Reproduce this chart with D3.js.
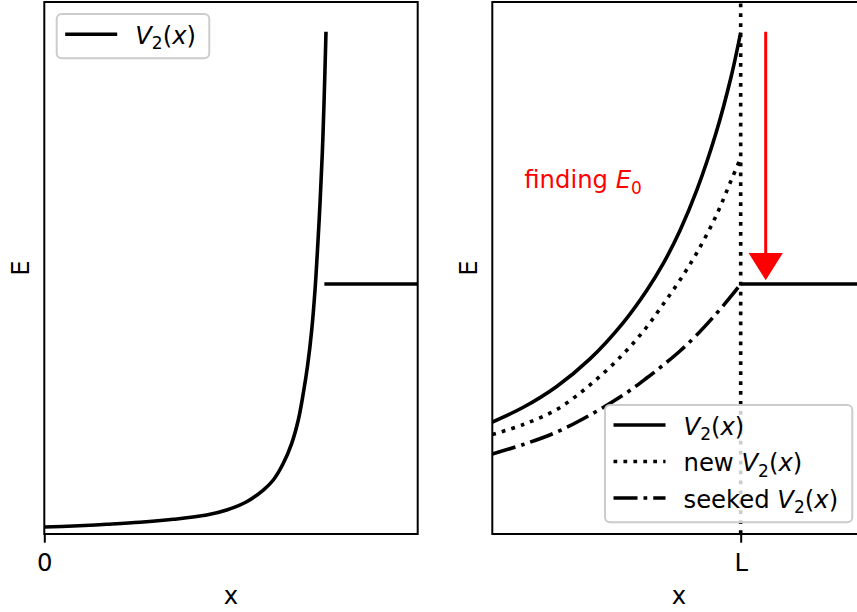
<!DOCTYPE html>
<html>
<head>
<meta charset="utf-8">
<script src="https://cdn.jsdelivr.net/npm/d3@7"></script>
<style>
  html, body { margin: 0; padding: 0; background: #fff; }
  svg { display: block; font-family: "DejaVu Sans", sans-serif; }
</style>
</head>
<body>
<svg id="fig" width="857" height="612"></svg>
<script>
// ---- data -------------------------------------------------------------
// left panel: the potential V2(x) and the flat level it meets
const leftX  = [0, 0.0777, 0.1671, 0.2563, 0.3455, 0.4349, 0.4885, 0.5420, 0.5865, 0.6133, 0.6401,
                0.6626, 0.6802, 0.6936, 0.7054, 0.7161, 0.7250, 0.7311, 0.7384, 0.7445, 0.7491, 0.7544];
const leftV2 = [0.0132, 0.0150, 0.0182, 0.0220, 0.0276, 0.0357, 0.0451, 0.0607, 0.0827, 0.1015, 0.1329,
                0.1705, 0.2143, 0.2645, 0.3180, 0.3830, 0.4586, 0.5276, 0.6216, 0.7156, 0.8096, 0.9442];
const leftStepX = [0.75, 1.0];

// right panel: three trial potentials up to x = L
const rightX      = [0, 0.083, 0.1725, 0.2616, 0.3508, 0.4135, 0.4580, 0.5027, 0.5474, 0.5991, 0.6401, 0.6652];
const rightV2     = [0.2105, 0.2382, 0.2774, 0.3291, 0.3974, 0.4577, 0.5086, 0.5705, 0.6457, 0.7536, 0.8609, 0.9427];
const rightNewV2  = [0.1870, 0.2058, 0.2340, 0.2801, 0.3383, 0.3891, 0.4323, 0.4774, 0.5282, 0.5977, 0.6654, 0.7068];
const rightSeeked = [0.1504, 0.1682, 0.1917, 0.2237, 0.2613, 0.2932, 0.3177, 0.3440, 0.3741, 0.4135, 0.4474, 0.4699];
const rightStepX  = [0.6652, 1.0];

const E0 = 0.4699;          // level of the flat segment
const Lpos = 0.6652;        // position of the wall
const arrowX = 0.7322;      // red arrow, from top down to the level
const arrowFrom = 0.944, arrowTo = 0.477;

const leftTicks  = [0],    leftTickLabels  = ["0"];
const rightTicks = [Lpos], rightTickLabels = ["L"];

// ---- layout -----------------------------------------------------------
const svg = d3.select("#fig");
const FS = 24.3;
const LW = 3.6;
const DOTTED = "3.75,6.19";
const DASHDOT = "24,6,3.75,6";
const yTop = 2, yBottom = 534;

const panels = [
  { x0: 44.3, x1: 417.7 },
  { x0: 492.3, x1: 865.7 }
];

function makeScales(p) {
  return {
    x: d3.scaleLinear().domain([0, 1]).range([p.x0, p.x1]),
    y: d3.scaleLinear().domain([0, 1]).range([yBottom, yTop])
  };
}

function lineOf(sx, sy, xs, ys) {
  return d3.line().x(d => sx(d[0])).y(d => sy(d[1]))
    .curve(d3.curveCatmullRom.alpha(0.5))(d3.zip(xs, ys));
}

// mathtext-like V_2(x)
function v2Label(sel) {
  sel.append("tspan").attr("font-style", "italic").text("V");
  sel.append("tspan").attr("font-size", FS * 0.7).attr("dy", 5.5).text("2");
  sel.append("tspan").attr("dy", -5.5).text("(");
  sel.append("tspan").attr("font-style", "italic").text("x");
  sel.append("tspan").text(")");
}

function drawFrame(g, p, ticks, tickLabels, sx) {
  g.append("rect")
    .attr("x", p.x0).attr("y", yTop)
    .attr("width", p.x1 - p.x0).attr("height", yBottom - yTop)
    .attr("fill", "none").attr("stroke", "#000").attr("stroke-width", 2);
  const axis = d3.axisBottom(sx).tickValues(ticks)
    .tickFormat((d, i) => tickLabels[i]).tickSize(8.7).tickPadding(0);
  const ax = g.append("g").attr("transform", `translate(0,${yBottom})`).call(axis);
  ax.select(".domain").remove();
  ax.selectAll(".tick line").attr("stroke", "#000").attr("stroke-width", 2);
  ax.selectAll(".tick text")
    .attr("y", 36.7).attr("dy", null)
    .attr("font-size", FS).attr("font-family", "DejaVu Sans").attr("fill", "#000");
  const cx = (p.x0 + p.x1) / 2;
  g.append("text").attr("x", cx).attr("y", 604).attr("text-anchor", "middle")
    .attr("font-size", FS).text("x");
  g.append("text")
    .attr("transform", `translate(${p.x0 - 15},${(yTop + yBottom) / 2}) rotate(-90)`)
    .attr("text-anchor", "middle").attr("font-size", FS).text("E");
}

function legend(g, x, y, w, h, rows) {
  g.append("rect").attr("x", x).attr("y", y).attr("width", w).attr("height", h)
    .attr("rx", 5).attr("ry", 5)
    .attr("fill", "#fff").attr("fill-opacity", 0.8)
    .attr("stroke", "#cccccc").attr("stroke-width", 2);
  rows.forEach(r => {
    g.append("line").attr("x1", x + 8.5).attr("x2", x + 60.5)
      .attr("y1", r.y).attr("y2", r.y)
      .attr("stroke", "#000").attr("stroke-width", LW)
      .attr("stroke-dasharray", r.dash || null);
    const t = g.append("text").attr("x", x + 78.5).attr("y", r.y + 9.5).attr("font-size", FS);
    if (r.prefix) t.append("tspan").text(r.prefix);
    v2Label(t);
  });
}

// ---- left panel -------------------------------------------------------
{
  const p = panels[0];
  const s = makeScales(p);
  const g = svg.append("g");
  const clipId = "clipL";
  svg.append("clipPath").attr("id", clipId).append("rect")
    .attr("x", p.x0).attr("y", yTop).attr("width", p.x1 - p.x0).attr("height", yBottom - yTop);
  const plot = g.append("g").attr("clip-path", `url(#${clipId})`);
  plot.append("path").attr("d", lineOf(s.x, s.y, leftX, leftV2))
    .attr("fill", "none").attr("stroke", "#000").attr("stroke-width", LW);
  plot.append("path").attr("d", lineOf(s.x, s.y, leftStepX, [E0, E0]))
    .attr("fill", "none").attr("stroke", "#000").attr("stroke-width", LW);
  drawFrame(g, p, leftTicks, leftTickLabels, s.x);
  legend(g, 56.7, 14, 152.6, 44.3, [{ y: 34.3 }]);
}

// ---- right panel ------------------------------------------------------
{
  const p = panels[1];
  const s = makeScales(p);
  const g = svg.append("g");
  const clipId = "clipR";
  svg.append("clipPath").attr("id", clipId).append("rect")
    .attr("x", p.x0).attr("y", yTop).attr("width", p.x1 - p.x0).attr("height", yBottom - yTop);
  const plot = g.append("g").attr("clip-path", `url(#${clipId})`);

  plot.append("path").attr("d", lineOf(s.x, s.y, rightX, rightV2))
    .attr("fill", "none").attr("stroke", "#000").attr("stroke-width", LW);
  plot.append("path").attr("d", lineOf(s.x, s.y, rightX, rightNewV2))
    .attr("fill", "none").attr("stroke", "#000").attr("stroke-width", LW)
    .attr("stroke-dasharray", DOTTED);
  plot.append("path").attr("d", lineOf(s.x, s.y, rightX, rightSeeked))
    .attr("fill", "none").attr("stroke", "#000").attr("stroke-width", LW)
    .attr("stroke-dasharray", DASHDOT);
  plot.append("path").attr("d", lineOf(s.x, s.y, rightStepX, [E0, E0]))
    .attr("fill", "none").attr("stroke", "#000").attr("stroke-width", LW);

  // wall at x = L
  plot.append("line")
    .attr("x1", s.x(Lpos)).attr("x2", s.x(Lpos))
    .attr("y1", s.y(0)).attr("y2", s.y(1))
    .attr("stroke", "#000").attr("stroke-width", LW).attr("stroke-dasharray", DOTTED);

  // red arrow pointing down to the level
  const headW = 0.046, headL = 0.0513, shaftW = 0.004;
  const ax = arrowX;
  const pts = [
    [ax - shaftW, arrowFrom], [ax + shaftW, arrowFrom],
    [ax + shaftW, arrowTo + headL], [ax + headW, arrowTo + headL],
    [ax, arrowTo],
    [ax - headW, arrowTo + headL], [ax - shaftW, arrowTo + headL]
  ];
  plot.append("path")
    .attr("d", d3.line().x(d => s.x(d[0])).y(d => s.y(d[1])).curve(d3.curveLinearClosed)(pts))
    .attr("fill", "#ff0000").attr("stroke", "none");

  const ft = plot.append("text").attr("x", 524.3).attr("y", 188.3)
    .attr("font-size", FS).attr("fill", "#ff0000");
  ft.append("tspan").text("finding ");
  ft.append("tspan").attr("font-style", "italic").text("E");
  ft.append("tspan").attr("font-size", FS * 0.7).attr("dy", 5.5).text("0");

  drawFrame(g, p, rightTicks, rightTickLabels, s.x);
  legend(g, 605, 405, 247.3, 117.3, [
    { y: 425 },
    { y: 461.5, dash: DOTTED, prefix: "new " },
    { y: 498, dash: DASHDOT, prefix: "seeked " }
  ]);
}
</script>
</body>
</html>
